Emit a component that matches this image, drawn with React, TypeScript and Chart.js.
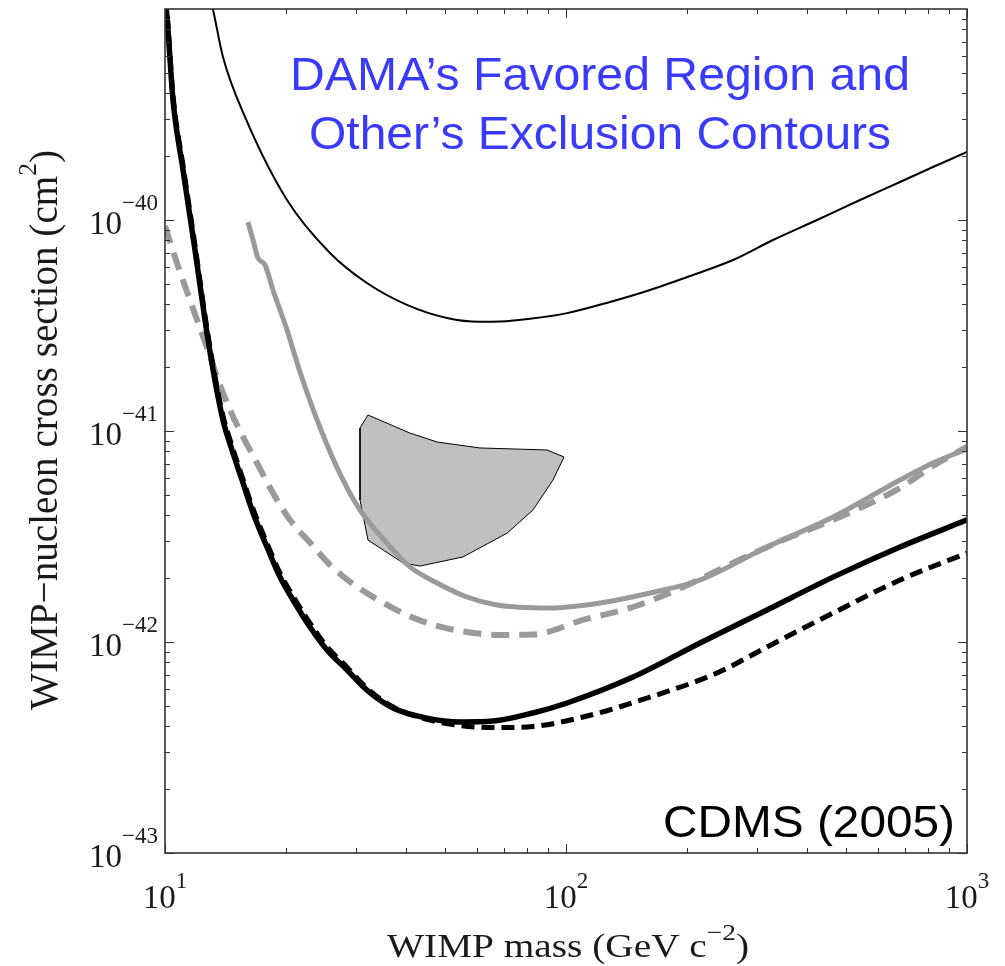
import React, { useEffect, useRef } from 'react';
import { Chart, registerables } from 'chart.js';

Chart.register(...registerables);

// ---- Data (WIMP mass in GeV c^-2, cross section in cm^2) ----
// Thin black solid contour (top)
const thinMass = [13.0, 13.18, 13.95, 15.83, 20.15, 25.79, 31.88, 40.13, 50.5, 61.0, 68.5, 81.3, 100.6, 128.8, 162.0, 207.3, 260.9, 328.3, 422.6, 541, 680.7, 822.6, 1000];
const thinSigma = [1.1e-39, 9.89e-40, 5.92e-40, 3.08e-40, 1.244e-40, 6.98e-41, 5.03e-41, 3.96e-41, 3.43e-41, 3.29e-41, 3.30e-41, 3.40e-41, 3.62e-41, 4.09e-41, 4.66e-41, 5.49e-41, 6.46e-41, 8.04e-41, 1.0e-40, 1.244e-40, 1.514e-40, 1.783e-40, 2.10e-40];

// Gray solid contour
const graySolidMass = [16.10, 16.58, 17.06, 17.76, 18.59, 20.15, 21.71, 24.49, 27.79, 30.64, 35.78, 40.83, 47.7, 56.6, 67.3, 91.2, 121.6, 162, 215.9, 317.1, 463.4, 680.7, 822.6, 1000];
const graySolidSigma = [9.78e-41, 8.04e-41, 6.60e-41, 6.12e-41, 4.66e-41, 3.01e-41, 1.904e-41, 1.011e-41, 5.86e-42, 4.22e-42, 2.94e-42, 2.27e-42, 1.904e-42, 1.634e-42, 1.497e-42, 1.449e-42, 1.530e-42, 1.707e-42, 1.967e-42, 2.82e-42, 3.91e-42, 5.86e-42, 7.05e-42, 8.22e-42];

// Gray dashed contour
const grayDashMass = [10, 10.41, 10.90, 11.54, 12.22, 12.95, 13.56, 14.53, 15.65, 16.96, 18.59, 20.50, 22.99, 25.79, 29.43, 34.38, 40.13, 47.7, 56.6, 67.3, 82.7, 110.3, 146.9, 195.8, 260.9, 347.6, 463.4, 680.7, 822.6, 1000];
const grayDashSigma = [9.37e-41, 7.37e-41, 5.67e-41, 4.18e-41, 3.08e-41, 2.27e-41, 1.744e-41, 1.258e-41, 9.37e-42, 7.05e-42, 5.08e-42, 3.79e-42, 2.96e-42, 2.32e-42, 1.883e-42, 1.564e-42, 1.343e-42, 1.191e-42, 1.115e-42, 1.080e-42, 1.085e-42, 1.272e-42, 1.465e-42, 1.823e-42, 2.37e-42, 3.04e-42, 3.79e-42, 5.37e-42, 6.83e-42, 8.40e-42];

// CDMS (2005) thick black solid
const cdmsMass = [10.0, 10.12, 10.47, 11.09, 11.88, 12.58, 13.18, 13.95, 14.69, 15.56, 16.58, 17.96, 19.36, 20.86, 22.99, 25.35, 28.44, 31.88, 37.04, 45.0, 54.4, 65.8, 82.7, 100.6, 146.9, 215.9, 317.1, 463.4, 680.7, 1000];
const cdmsSigma = [1.1e-39, 9.07e-40, 3.70e-40, 1.726e-40, 7.21e-41, 3.36e-41, 1.946e-41, 1.127e-41, 8.13e-42, 5.86e-42, 4.09e-42, 2.82e-42, 2.03e-42, 1.581e-42, 1.178e-42, 9.17e-43, 7.37e-43, 5.92e-43, 4.87e-43, 4.36e-43, 4.18e-43, 4.22e-43, 4.61e-43, 5.14e-43, 6.82e-43, 9.89e-43, 1.418e-42, 2.03e-42, 2.82e-42, 3.79e-42];

// CDMS thick black dashed
const cdmsDashMass = [10.0, 10.12, 10.47, 11.09, 11.88, 12.58, 13.18, 13.95, 14.69, 15.56, 16.58, 17.96, 19.36, 20.86, 22.99, 25.35, 28.44, 31.88, 37.04, 45.0, 54.4, 65.8, 82.7, 110.3, 162, 238.0, 317.1, 463.4, 680.7, 1000];
const cdmsDashSigma = [1.15e-39, 9.5e-40, 3.88e-40, 1.81e-40, 7.57e-41, 3.53e-41, 2.04e-41, 1.18e-41, 8.5e-42, 6.1e-42, 4.27e-42, 2.94e-42, 2.12e-42, 1.65e-42, 1.23e-42, 9.5e-43, 7.6e-43, 6.05e-43, 4.92e-43, 4.30e-43, 4.02e-43, 3.93e-43, 3.98e-43, 4.41e-43, 5.48e-43, 7.13e-43, 9.47e-43, 1.372e-42, 1.967e-42, 2.64e-42];

// DAMA favored region (closed polygon)
const damaMass = [32.08, 30.64, 30.64, 32.08, 39.22, 43.24, 55.35, 71.3, 82.7, 92.8, 98.9, 89.7, 61.0, 47.7, 40.8, 32.08];
const damaSigma = [1.191e-41, 1.033e-41, 4.71e-42, 3.04e-42, 2.37e-42, 2.29e-42, 2.53e-42, 3.28e-42, 4.22e-42, 5.86e-42, 7.53e-42, 8.13e-42, 8.31e-42, 8.87e-42, 9.78e-42, 1.191e-41];

// Axes
const xMajorTicks = [10, 100, 1000];
const xTickExponents = ['1', '2', '3'];
const yMajorTicks = [1e-43, 1e-42, 1e-41, 1e-40];
const yTickExponents = ['\u221243', '\u221242', '\u221241', '\u221240'];
const xDecades = [10, 100];
const yDecades = [1e-43, 1e-42, 1e-41, 1e-40];
const minorMultipliers = [2, 3, 4, 5, 6, 7, 8, 9];

const titleLines = ['DAMA\u2019s Favored Region and', 'Other\u2019s Exclusion Contours'];
const cornerLabel = 'CDMS (2005)';
const xTitle = ['WIMP mass (GeV c', '\u22122', ')'];
const yTitle = ['WIMP\u2212nucleon cross section (cm', '2', ')'];

const SERIF = '"Liberation Serif", "Times New Roman", serif';
const SANS = '"Liberation Sans", Arial, sans-serif';

type Part = { t: string; size: number; dy: number; family: string };

function partsWidth(ctx: CanvasRenderingContext2D, parts: Part[]) {
  let w = 0;
  for (const p of parts) {
    ctx.font = `${p.size}px ${p.family}`;
    w += ctx.measureText(p.t).width;
  }
  return w;
}

function drawParts(ctx: CanvasRenderingContext2D, parts: Part[], x: number, y: number, sx: number) {
  ctx.save();
  ctx.translate(x, y);
  ctx.scale(sx, 1);
  ctx.textAlign = 'left';
  ctx.textBaseline = 'alphabetic';
  let cx = 0;
  for (const p of parts) {
    ctx.font = `${p.size}px ${p.family}`;
    ctx.fillText(p.t, cx, p.dy);
    cx += ctx.measureText(p.t).width;
  }
  ctx.restore();
}

const pts = (xs: number[], ys: number[]) => xs.map((x, i) => ({ x, y: ys[i] }));

const decorPlugin = {
  id: 'decor',
  beforeDraw(chart: any) {
    const ctx = chart.ctx;
    ctx.save();
    ctx.fillStyle = '#ffffff';
    ctx.fillRect(0, 0, chart.width, chart.height);
    ctx.restore();
  },
  afterDatasetsDraw(chart: any) {
    const ctx: CanvasRenderingContext2D = chart.ctx;
    const a = chart.chartArea;
    const xs = chart.scales.x;
    const ys = chart.scales.y;
    ctx.save();
    ctx.strokeStyle = '#333333';
    ctx.lineWidth = 1;
    ctx.beginPath();
    const xTick = (v: number, len: number) => {
      const px = Math.round(xs.getPixelForValue(v)) + 0.5;
      ctx.moveTo(px, a.bottom); ctx.lineTo(px, a.bottom - len);
      ctx.moveTo(px, a.top); ctx.lineTo(px, a.top + len);
    };
    const yTick = (v: number, len: number) => {
      const py = Math.round(ys.getPixelForValue(v)) + 0.5;
      ctx.moveTo(a.left, py); ctx.lineTo(a.left + len, py);
      ctx.moveTo(a.right, py); ctx.lineTo(a.right - len, py);
    };
    xMajorTicks.forEach((v) => xTick(v, 9));
    xDecades.forEach((d) => minorMultipliers.forEach((k) => xTick(d * k, 5)));
    yMajorTicks.forEach((v) => yTick(v, 9));
    yDecades.forEach((d) => minorMultipliers.forEach((k) => yTick(d * k, 5)));
    ctx.stroke();
    ctx.lineWidth = 1.6;
    ctx.strokeRect(a.left, a.top, a.right - a.left, a.bottom - a.top);
    ctx.restore();
  },
  afterDraw(chart: any) {
    const ctx: CanvasRenderingContext2D = chart.ctx;
    const a = chart.chartArea;
    const xs = chart.scales.x;
    const ys = chart.scales.y;
    ctx.save();
    ctx.fillStyle = '#1a1a1a';

    // y tick labels
    yMajorTicks.forEach((v, i) => {
      const py = ys.getPixelForValue(v);
      const parts: Part[] = [
        { t: '10', size: 33, dy: 0, family: SERIF },
        { t: yTickExponents[i], size: 23, dy: -24, family: SERIF },
      ];
      const w = partsWidth(ctx, parts);
      drawParts(ctx, parts, a.left - 7 - w, py + 14, 1);
    });

    // x tick labels
    xMajorTicks.forEach((v, i) => {
      const px = xs.getPixelForValue(v);
      const parts: Part[] = [
        { t: '10', size: 33, dy: 0, family: SERIF },
        { t: xTickExponents[i], size: 23, dy: -20, family: SERIF },
      ];
      const w = partsWidth(ctx, parts);
      drawParts(ctx, parts, px - w / 2, a.bottom + 55, 1);
    });

    // x title
    {
      const parts: Part[] = [
        { t: xTitle[0], size: 33, dy: 0, family: SERIF },
        { t: xTitle[1], size: 23, dy: -17, family: SERIF },
        { t: xTitle[2], size: 33, dy: 0, family: SERIF },
      ];
      const w = partsWidth(ctx, parts);
      const target = 362;
      const cx = (a.left + a.right) / 2 + 2;
      drawParts(ctx, parts, cx - target / 2, 957, target / w);
    }

    // y title (rotated)
    {
      const parts: Part[] = [
        { t: yTitle[0], size: 40, dy: 0, family: SERIF },
        { t: yTitle[1], size: 26, dy: -21, family: SERIF },
        { t: yTitle[2], size: 40, dy: 0, family: SERIF },
      ];
      const w = partsWidth(ctx, parts);
      const target = 560;
      ctx.save();
      ctx.translate(57, 710);
      ctx.rotate(-Math.PI / 2);
      drawParts(ctx, parts, 0, 0, target / w);
      ctx.restore();
    }

    // Blue annotation
    ctx.fillStyle = '#3a3afa';
    const targets = [620, 582];
    const baselines = [90, 149];
    titleLines.forEach((line, i) => {
      const parts: Part[] = [{ t: line, size: 46, dy: 0, family: SANS }];
      const w = partsWidth(ctx, parts);
      drawParts(ctx, parts, 600 - targets[i] / 2, baselines[i], targets[i] / w);
    });

    // CDMS label
    ctx.fillStyle = '#000000';
    {
      const parts: Part[] = [{ t: cornerLabel, size: 45, dy: 0, family: SANS }];
      const w = partsWidth(ctx, parts);
      const target = 292;
      drawParts(ctx, parts, 955 - target, 837, target / w);
    }
    ctx.restore();
  },
};

export default function App() {
  const ref = useRef<HTMLCanvasElement>(null);
  useEffect(() => {
    if (!ref.current) return;
    const common = { pointRadius: 0, showLine: true, clip: 0, cubicInterpolationMode: 'monotone', fill: false, borderCapStyle: 'butt', borderJoinStyle: 'round' };
    const chart = new Chart(ref.current, {
      type: 'scatter',
      data: {
        datasets: [
          { ...common, label: 'Thin', data: pts(thinMass, thinSigma), borderColor: '#000000', borderWidth: 2, order: 0 },
          { ...common, label: 'CDMS', data: pts(cdmsMass, cdmsSigma), borderColor: '#000000', borderWidth: 5.5, order: 1 },
          { ...common, label: 'CDMS dashed', data: pts(cdmsDashMass, cdmsDashSigma), borderColor: '#000000', borderWidth: 5, borderDash: [13, 7], order: 2 },
          { ...common, label: 'Gray solid', data: pts(graySolidMass, graySolidSigma), borderColor: '#9a9a9a', borderWidth: 5, order: 3 },
          { ...common, label: 'Gray dashed', data: pts(grayDashMass, grayDashSigma), borderColor: '#9a9a9a', borderWidth: 6, borderDash: [18, 10], order: 4 },
          { pointRadius: 0, showLine: true, clip: 0, label: 'DAMA', data: pts(damaMass, damaSigma), borderColor: '#000000', borderWidth: 1, backgroundColor: '#c0c0c0', fill: 'shape', tension: 0, order: 10 },
        ],
      } as any,
      options: {
        animation: false,
        responsive: false,
        events: [],
        layout: { padding: { left: 165, top: 9, right: 38, bottom: 113 } },
        plugins: { legend: { display: false }, tooltip: { enabled: false }, title: { display: false } },
        scales: {
          x: { type: 'logarithmic', min: 10, max: 1000, display: false },
          y: { type: 'logarithmic', min: 1e-43, max: 1e-39, display: false },
        },
      } as any,
      plugins: [decorPlugin],
    });
    return () => chart.destroy();
  }, []);
  return (
    <div style={{ position: 'absolute', left: 0, top: 0, width: 1005, height: 966 }}>
      <canvas ref={ref} width={1005} height={966} style={{ display: 'block' }} />
    </div>
  );
}
